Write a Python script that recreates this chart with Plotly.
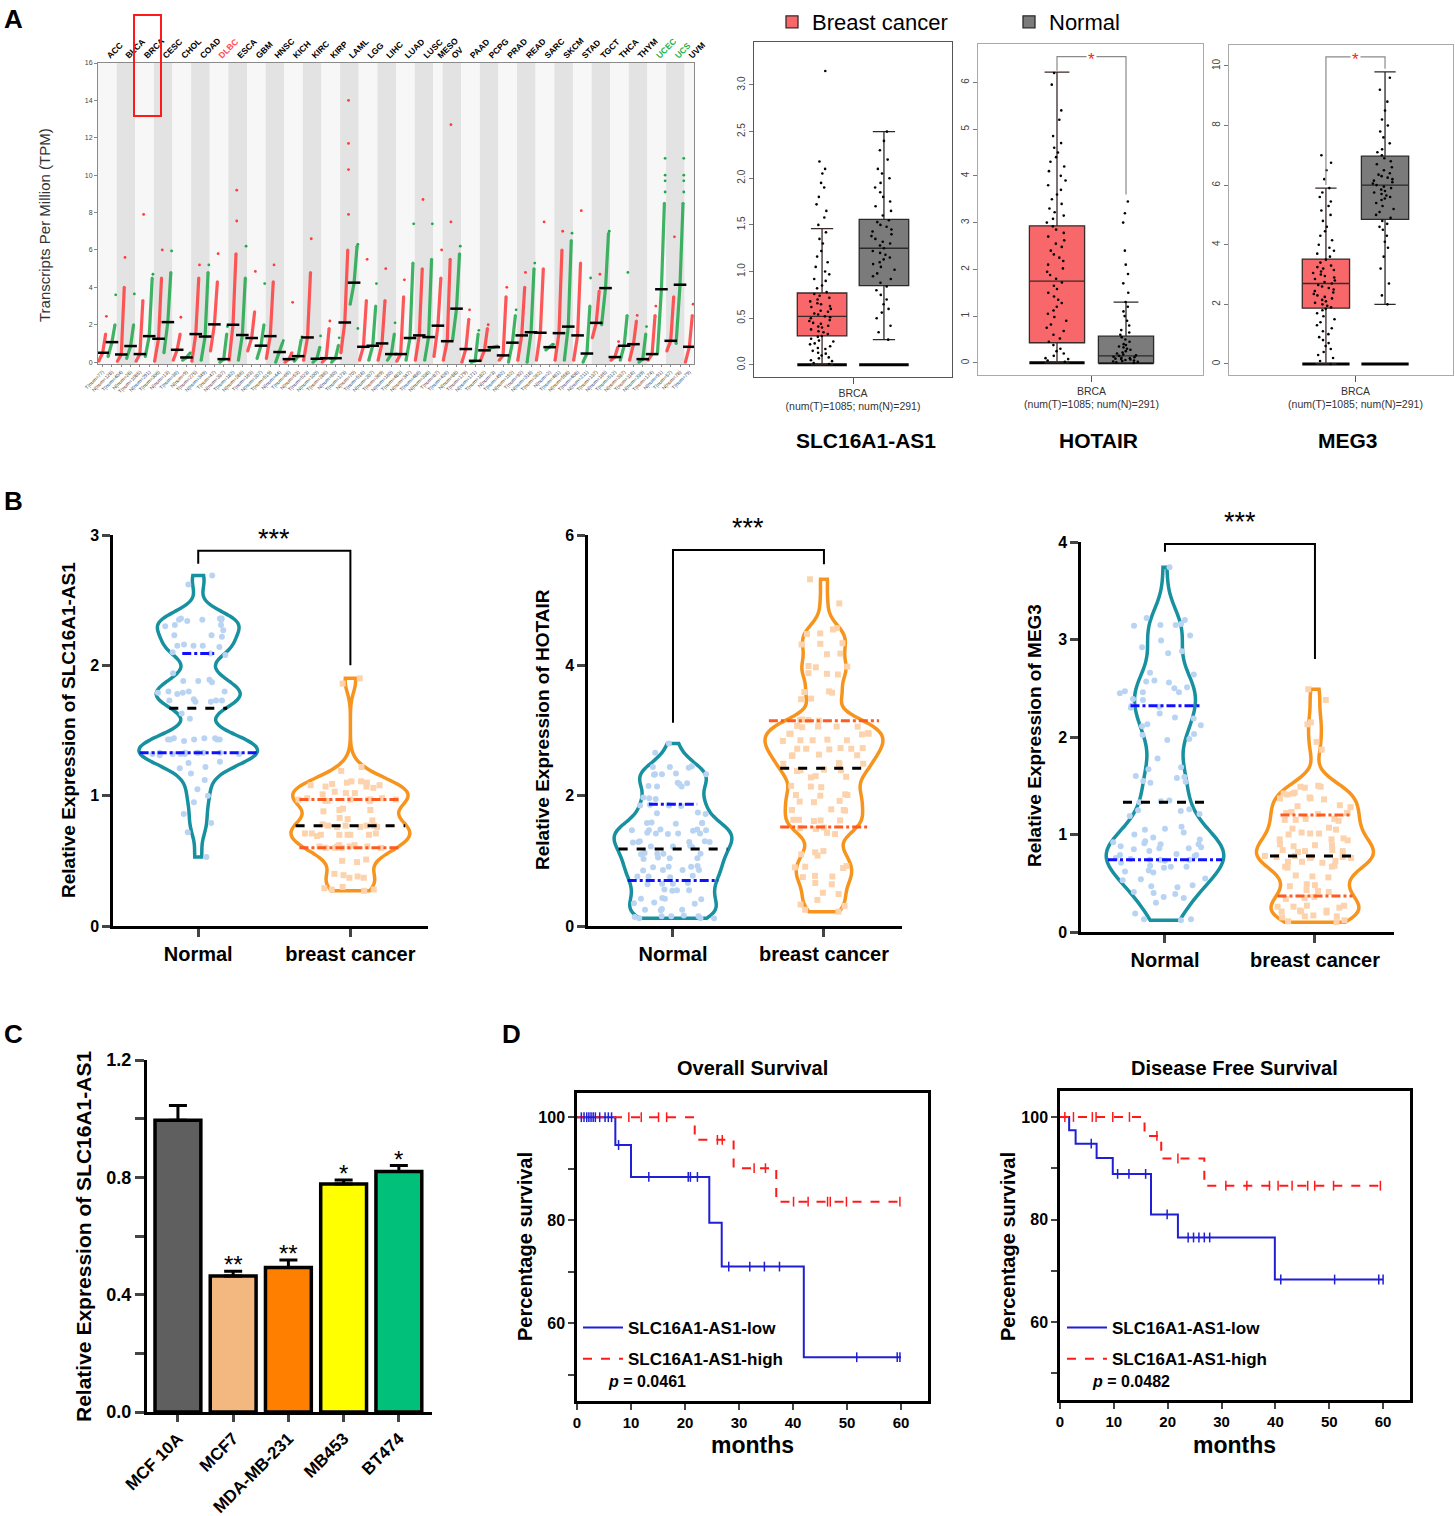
import plotly.graph_objects as go

W, H = 1455, 1516
FONT = "Arial, 'Liberation Sans', Helvetica, sans-serif"

# ============================ DATA ============================
# ---- Panel A (left): pan-cancer SLC16A1-AS1 expression, TPM ----
cancers = ["ACC", "BLCA", "BRCA", "CESC", "CHOL", "COAD", "DLBC", "ESCA", "GBM", "HNSC", "KICH",
           "KIRC", "KIRP", "LAML", "LGG", "LIHC", "LUAD", "LUSC", "MESO", "OV", "PAAD", "PCPG",
           "PRAD", "READ", "SARC", "SKCM", "STAD", "TGCT", "THCA", "THYM", "UCEC", "UCS", "UVM"]
tumor_n = [77, 404, 1085, 306, 36, 275, 47, 182, 163, 519, 66, 523, 286, 173, 518, 369, 483, 486,
           87, 426, 179, 182, 492, 92, 262, 461, 408, 137, 512, 118, 174, 57, 79]
normal_n = [128, 28, 291, 13, 9, 349, 337, 286, 207, 44, 53, 100, 60, 70, 207, 160, 347, 338,
            None, 88, 171, 3, 152, 318, 2, 558, 211, 165, 337, 339, 91, 78, None]
tumor_low = [0.05, 0.05, 0.05, 0.05, 0.1, 0.05, 0.6, 0.1, 0.6, 0.2, 0.0, 0.1, 0.0, 0.5, 0.1, 0.1, 0.05,
             0.1, 0.3, 0.1, 0.0, 0.1, 0.1, 0.1, 0.1, 0.1, 0.1, 1.3, 0.1, 0.1, 0.1, 0.6, 0.0]
tumor_med = [0.50, 0.41, 0.43, 1.25, 0.66, 1.50, 2.02, 2.00, 1.29, 1.39, 0.16, 1.32, 0.21, 2.12, 0.82,
             1.00, 0.43, 1.43, 1.95, 1.12, 0.70, 0.63, 0.36, 1.43, 1.57, 1.55, 1.43, 2.10, 0.27, 0.96,
             0.43, 1.14, 0.82]
tumor_high = [1.5, 4.0, 3.3, 4.5, 1.5, 4.5, 4.3, 5.8, 2.7, 4.3, 0.5, 4.8, 1.8, 6.0, 3.3, 3.3, 3.5, 5.0,
              4.5, 5.5, 2.3, 1.8, 3.5, 4.0, 5.0, 6.0, 5.3, 3.8, 0.8, 2.2, 2.5, 3.5, 2.5]
tumor_max = [2.45, 5.6, 7.9, 6.0, 2.4, 5.2, 5.8, 7.55, 4.85, 5.2, 3.2, 6.6, 2.2, 7.9, 5.5, 5.0, 4.4, 8.7,
             6.0, 7.5, 2.8, 2.0, 4.0, 4.8, 7.5, 7.0, 8.1, 4.7, 1.1, 2.5, 3.0, 6.7, 3.1]
normal_low = [0.3, 0.2, 0.3, 0.5, 0.1, 0.1, 0.0, 0.1, 0.2, 0.0, 0.05, 0.0, 0.0, 3.1, 0.1, 0.1, 0.1, 0.1,
              None, 1.2, 0.0, 0.75, 0.0, 0.0, 0.65, 0.1, 0.0, 2.0, 0.1, 0.0, 0.5, 1.0, None]
normal_med = [1.07, 0.86, 1.39, 2.14, 0.25, 1.37, 0.16, 1.45, 0.88, 0.54, 0.32, 0.18, 0.21, 4.25, 0.875,
              0.43, 1.29, 1.34, None, 2.86, 0.07, 0.80, 1.04, 1.60, 0.80, 1.90, 0.46, 3.96, 0.875, 0.16,
              3.90, 4.14, None]
normal_high = [2.0, 2.0, 4.5, 4.8, 0.45, 4.8, 1.5, 4.5, 2.0, 1.05, 1.2, 0.8, 0.9, 6.2, 3.0, 1.5, 5.3, 5.5,
               None, 5.8, 1.5, 0.85, 2.5, 5.0, 0.95, 6.5, 3.0, 6.9, 2.5, 1.5, 8.5, 8.5, None]
normal_max = [3.6, 3.65, 4.7, 5.95, 0.5, 5.2, 1.9, 6.2, 4.2, 1.15, 1.35, 1.4, 1.3, 6.3, 4.2, 2.1, 7.4, 7.4,
              None, 6.2, 1.7, 0.85, 2.8, 5.3, 0.95, 6.9, 4.5, 7.0, 4.8, 1.9, 10.9, 10.9, None]
tumor_outliers = {"ESCA": [9.2], "LAML": [14.0, 11.7, 10.3], "OV": [12.7]}
normal_outliers = {"LAML": [1.8], "UCEC": [10.0, 9.7, 9.1], "UCS": [10.0, 9.7, 9.1]}
label_colors = {"DLBC": "#ff4d4d", "UCEC": "#22b14c", "UCS": "#22b14c"}

# ---- Panel A (right): GEPIA boxplots in BRCA ----
box_genes = ["SLC16A1-AS1", "HOTAIR", "MEG3"]
box_caption = "BRCA<br>(num(T)=1085; num(N)=291)"
tumor_q1 = [0.31, 0.43, 1.87]
tumor_median = [0.52, 1.75, 2.70]
tumor_q3 = [0.77, 2.93, 3.52]
tumor_lowf = [0.0, 0.0, 0.0]
tumor_upf = [1.46, 6.22, 5.90]
normal_q1 = [0.85, 0.0, 4.85]
normal_median = [1.25, 0.15, 6.00]
normal_q3 = [1.56, 0.57, 6.97]
normal_lowf = [0.27, 0.0, 2.0]
normal_upf = [2.50, 1.30, 9.80]
box_baseline = 0.0
tumor_points = [
    [0.01, 0.02, 0.04, 0.05, 0.07, 0.08, 0.1, 0.12, 0.13, 0.15, 0.17, 0.18, 0.2, 0.22, 0.23, 0.25, 0.26,
     0.28, 0.3, 0.31, 0.33, 0.35, 0.36, 0.38, 0.4, 0.41, 0.42, 0.44, 0.45, 0.47, 0.48, 0.5, 0.51, 0.52,
     0.54, 0.55, 0.57, 0.58, 0.6, 0.62, 0.63, 0.65, 0.66, 0.68, 0.7, 0.72, 0.74, 0.76, 0.78, 0.82, 0.85,
     0.9, 0.92, 0.97, 1.0, 1.05, 1.1, 1.16, 1.22, 1.3, 1.35, 1.42, 1.5, 1.58, 1.65, 1.72, 1.8, 1.9, 1.95,
     2.05, 2.1, 2.18, 3.15],
    [0.02, 0.05, 0.08, 0.1, 0.15, 0.2, 0.25, 0.3, 0.38, 0.45, 0.52, 0.6, 0.68, 0.75, 0.82, 0.9, 0.98, 1.05,
     1.12, 1.2, 1.28, 1.35, 1.42, 1.5, 1.58, 1.65, 1.72, 1.8, 1.88, 1.95, 2.02, 2.1, 2.18, 2.25, 2.32, 2.4,
     2.48, 2.55, 2.62, 2.7, 2.78, 2.85, 2.92, 3.0, 3.08, 3.15, 3.22, 3.3, 3.4, 3.5, 3.6, 3.7, 3.8, 3.9,
     4.0, 4.1, 4.2, 4.3, 4.4, 4.5, 4.6, 4.7, 4.85, 5.2, 5.4, 5.95, 6.2],
    [0.0, 0.1, 0.2, 0.3, 0.4, 0.5, 0.6, 0.7, 0.8, 0.9, 1.0, 1.1, 1.2, 1.3, 1.4, 1.5, 1.6, 1.7, 1.8, 1.85,
     1.9, 1.95, 2.0, 2.05, 2.1, 2.15, 2.2, 2.25, 2.3, 2.35, 2.4, 2.45, 2.5, 2.55, 2.6, 2.65, 2.7, 2.75,
     2.8, 2.85, 2.9, 2.95, 3.0, 3.05, 3.1, 3.15, 3.2, 3.25, 3.3, 3.4, 3.5, 3.6, 3.7, 3.8, 3.9, 4.0, 4.15,
     4.3, 4.45, 4.6, 4.8, 5.0, 5.15, 5.3, 5.45, 5.6, 5.75, 5.9, 6.2, 6.5, 6.75, 7.0],
]
normal_points = [
    [0.27, 0.35, 0.42, 0.5, 0.56, 0.6, 0.65, 0.7, 0.75, 0.8, 0.84, 0.88, 0.92, 0.95, 0.98, 1.02, 1.05,
     1.08, 1.1, 1.13, 1.15, 1.18, 1.2, 1.22, 1.25, 1.28, 1.3, 1.32, 1.35, 1.38, 1.4, 1.43, 1.45, 1.48,
     1.5, 1.53, 1.55, 1.6, 1.65, 1.7, 1.75, 1.8, 1.85, 1.9, 1.95, 2.0, 2.05, 2.1, 2.2, 2.3, 2.4, 2.5],
    [0.0, 0.01, 0.02, 0.03, 0.04, 0.05, 0.06, 0.07, 0.08, 0.09, 0.1, 0.11, 0.12, 0.13, 0.15, 0.16, 0.18,
     0.2, 0.22, 0.25, 0.28, 0.3, 0.33, 0.35, 0.38, 0.4, 0.45, 0.5, 0.55, 0.6, 0.65, 0.7, 0.8, 0.9, 1.0,
     1.1, 1.2, 1.3, 1.5, 1.7, 1.9, 2.1, 2.4, 3.0, 3.2, 3.45],
    [2.0, 2.3, 2.7, 3.2, 3.6, 3.9, 4.1, 4.3, 4.5, 4.6, 4.7, 4.8, 4.9, 5.0, 5.1, 5.2, 5.3, 5.4, 5.5, 5.55,
     5.6, 5.65, 5.7, 5.75, 5.8, 5.85, 5.9, 5.95, 6.0, 6.05, 6.1, 6.15, 6.2, 6.25, 6.3, 6.35, 6.4, 6.5,
     6.6, 6.7, 6.8, 6.9, 7.0, 7.1, 7.2, 7.4, 7.6, 7.8, 8.0, 8.2, 8.5, 8.8, 9.2, 9.6],
]
# significance brackets: [left foot, top, right foot]; None = no bracket
box_brackets = [None, [6.25, 6.55, 3.6], [6.0, 10.3, 9.9]]

# ---- Panel B: violin plots (Normal vs breast cancer) ----
violin_groups = ["Normal", "breast cancer"]
violin_genes = ["SLC16A1-AS1", "HOTAIR", "MEG3"]
slc_normal = [2.69, 2.62, 2.36, 2.36, 2.35, 2.35, 2.34, 2.35, 2.36, 2.31, 2.31, 2.30, 2.27, 2.23, 2.23,
              2.22, 2.16, 2.15, 2.15, 2.14, 2.15, 2.09, 2.10, 2.08, 1.94, 1.88, 1.88, 1.87, 1.89, 1.80,
              1.79, 1.80, 1.79, 1.80, 1.78, 1.73, 1.73, 1.72, 1.74, 1.73, 1.72, 1.63, 1.59, 1.44, 1.43,
              1.43, 1.44, 1.43, 1.42, 1.43, 1.44, 1.43, 1.33, 1.32, 1.33, 1.32, 1.33, 1.31, 1.32, 1.33,
              1.32, 1.33, 1.32, 1.33, 1.26, 1.25, 1.22, 1.21, 1.17, 1.12, 1.05, 1.00, 0.95, 0.86, 0.79,
              0.72, 0.53]
slc_cancer = [1.90, 1.86, 1.22, 1.19, 1.11, 1.10, 1.10, 1.11, 1.09, 1.08, 1.07, 1.08, 1.07, 1.06, 1.02,
              1.03, 1.02, 1.01, 0.97, 0.97, 0.96, 0.97, 0.98, 0.97, 0.96, 0.97, 0.98, 0.96, 0.90, 0.89,
              0.89, 0.88, 0.82, 0.83, 0.81, 0.77, 0.76, 0.77, 0.76, 0.77, 0.78, 0.76, 0.77, 0.71, 0.70,
              0.70, 0.71, 0.70, 0.69, 0.70, 0.71, 0.70, 0.62, 0.61, 0.60, 0.61, 0.60, 0.62, 0.60, 0.61,
              0.60, 0.61, 0.51, 0.50, 0.49, 0.40, 0.39, 0.38, 0.37, 0.37, 0.30, 0.29, 0.28, 0.28, 0.27]
hot_normal = [2.80, 2.66, 2.45, 2.44, 2.44, 2.43, 2.34, 2.33, 2.33, 2.32, 2.33, 2.20, 2.19, 2.18, 2.15,
              2.14, 2.14, 1.97, 1.96, 1.95, 1.86, 1.85, 1.85, 1.86, 1.84, 1.74, 1.73, 1.72, 1.59, 1.58,
              1.58, 1.57, 1.58, 1.48, 1.47, 1.47, 1.46, 1.47, 1.48, 1.42, 1.41, 1.42, 1.43, 1.42, 1.30,
              1.29, 1.29, 1.28, 1.29, 1.30, 1.22, 1.22, 1.21, 1.23, 1.12, 1.11, 1.11, 1.10, 1.11, 1.04,
              1.04, 1.03, 1.05, 0.92, 0.91, 0.91, 0.90, 0.86, 0.86, 0.85, 0.86, 0.77, 0.76, 0.76, 0.75,
              0.66, 0.65, 0.65, 0.64, 0.56, 0.55, 0.55, 0.54, 0.43, 0.42, 0.42, 0.41, 0.36, 0.35, 0.34,
              0.26, 0.25, 0.25, 0.24, 0.16, 0.15, 0.15, 0.14, 0.15, 0.12, 0.12, 0.12]
hot_cancer = [5.32, 4.95, 4.57, 4.55, 4.49, 4.48, 4.34, 4.33, 4.32, 4.18, 4.17, 3.99, 3.98, 3.97, 3.88,
              3.87, 3.86, 3.60, 3.59, 3.58, 3.49, 3.48, 3.17, 3.16, 3.15, 3.16, 3.07, 3.06, 3.06, 3.05,
              3.06, 2.96, 2.95, 2.95, 2.94, 2.95, 2.86, 2.85, 2.85, 2.84, 2.85, 2.73, 2.72, 2.72, 2.71,
              2.72, 2.73, 2.63, 2.62, 2.61, 2.62, 2.50, 2.49, 2.48, 2.49, 2.40, 2.39, 2.38, 2.39, 2.30,
              2.29, 2.28, 2.15, 2.14, 2.13, 2.02, 2.01, 2.00, 2.01, 1.92, 1.91, 1.90, 1.79, 1.78, 1.77,
              1.78, 1.63, 1.62, 1.61, 1.62, 1.63, 1.51, 1.50, 1.49, 1.43, 1.41, 1.15, 1.13, 1.10, 1.08,
              0.92, 0.91, 0.90, 0.89, 0.77, 0.76, 0.75, 0.66, 0.64, 0.51, 0.49, 0.40, 0.33, 0.31, 0.25,
              0.22]
meg_normal = [3.74, 3.22, 3.20, 3.16, 3.15, 3.15, 3.14, 3.04, 2.99, 2.92, 2.88, 2.86, 2.66, 2.64, 2.58,
              2.57, 2.56, 2.51, 2.50, 2.47, 2.46, 2.46, 2.45, 2.39, 2.38, 2.32, 2.31, 2.30, 2.24, 2.20,
              2.19, 2.13, 2.12, 2.11, 2.03, 2.02, 1.98, 1.97, 1.78, 1.69, 1.67, 1.60, 1.59, 1.58, 1.55,
              1.54, 1.53, 1.35, 1.34, 1.33, 1.26, 1.25, 1.24, 1.21, 1.19, 1.08, 1.06, 1.05, 1.02, 1.00,
              0.97, 0.95, 0.93, 0.92, 0.91, 0.90, 0.90, 0.88, 0.87, 0.86, 0.85, 0.86, 0.83, 0.80, 0.79,
              0.79, 0.78, 0.76, 0.75, 0.74, 0.74, 0.73, 0.74, 0.71, 0.68, 0.67, 0.66, 0.67, 0.63, 0.62,
              0.61, 0.55, 0.54, 0.53, 0.48, 0.47, 0.46, 0.41, 0.40, 0.39, 0.36, 0.35, 0.30, 0.19, 0.13,
              0.13, 0.12]
meg_cancer = [2.49, 2.38, 2.15, 2.13, 1.95, 1.87, 1.50, 1.49, 1.48, 1.49, 1.43, 1.42, 1.41, 1.42, 1.38,
              1.37, 1.36, 1.37, 1.30, 1.29, 1.28, 1.22, 1.22, 1.21, 1.23, 1.22, 1.16, 1.15, 1.14, 1.15,
              1.16, 1.07, 1.06, 1.05, 1.02, 1.01, 1.00, 1.01, 0.96, 0.95, 0.94, 0.95, 0.90, 0.89, 0.88,
              0.89, 0.84, 0.83, 0.83, 0.82, 0.84, 0.78, 0.77, 0.77, 0.76, 0.77, 0.78, 0.76, 0.73, 0.72,
              0.71, 0.72, 0.68, 0.67, 0.66, 0.67, 0.58, 0.57, 0.56, 0.49, 0.48, 0.47, 0.43, 0.42, 0.41,
              0.36, 0.35, 0.34, 0.27, 0.26, 0.26, 0.25, 0.27, 0.22, 0.21, 0.21, 0.20, 0.22, 0.17, 0.16,
              0.16, 0.15, 0.12, 0.11, 0.10]
# quartiles drawn on violins: [Q1, median, Q3]
slc_normal_q = [1.33, 1.67, 2.09]
slc_cancer_q = [0.60, 0.77, 0.97]
hot_normal_q = [0.70, 1.18, 1.87]
hot_cancer_q = [1.52, 2.42, 3.15]
meg_normal_q = [0.74, 1.33, 2.32]
meg_cancer_q = [0.37, 0.78, 1.20]
violin_brackets = [[2.78, 2.88, 2.0], [3.12, 5.77, 5.55], [3.9, 3.98, 2.8]]
violin_star_y = [2.97, 6.1, 4.2]
violin_sig = "***"

# ---- Panel C: cell lines ----
cell_lines = ["MCF 10A", "MCF7", "MDA-MB-231", "MB453", "BT474"]
cell_expr = [0.995, 0.464, 0.493, 0.777, 0.820]
cell_err = [0.05, 0.016, 0.025, 0.014, 0.02]
cell_sig = ["", "**", "**", "*", "*"]

# ---- Panel D: Kaplan-Meier ----
os_low_t = [0, 7.1, 10.0, 24.5, 26.8, 42.0, 60.0]
os_low_s = [100, 94.6, 88.4, 79.5, 71.0, 53.4, 53.4]
os_low_cens = [0.8, 1.3, 1.8, 2.2, 2.6, 3.0, 3.4, 4.2, 5.2, 5.8, 6.4, 7.7, 13.3, 20.6, 21.0, 22.3, 28.1,
               32.0, 34.7, 37.5, 51.8, 59.3, 59.8]
os_high_t = [0, 21.8, 29.0, 36.9, 60.0]
os_high_s = [100, 95.6, 90.1, 83.6, 83.6]
os_high_cens = [9.6, 11.9, 15.1, 16.6, 26.0, 26.9, 32.8, 34.9, 40.1, 42.8, 46.4, 46.9, 49.9, 59.8]
dfs_low_t = [0, 1.7, 2.9, 6.8, 9.8, 16.9, 21.9, 39.9, 60.0]
dfs_low_s = [100, 97.4, 94.8, 92.0, 88.9, 81.0, 76.5, 68.3, 68.3]
dfs_low_cens = [5.8, 10.7, 12.8, 15.9, 19.9, 23.8, 24.8, 25.8, 26.8, 27.8, 41.0, 51.0, 59.2, 60.0]
dfs_high_t = [0, 15.7, 18.8, 26.8, 60.0]
dfs_high_s = [100, 96.3, 91.9, 86.6, 86.6]
dfs_high_cens = [0.9, 2.5, 6.0, 6.7, 9.8, 12.9, 18.0, 21.9, 30.8, 34.7, 38.9, 40.5, 43.1, 46.0, 47.3,
                 50.8, 59.5]
km_titles = ["Overall Survival", "Disease Free Survival"]
km_pvalues = ["0.0461", "0.0482"]
km_names = ["SLC16A1-AS1-low", "SLC16A1-AS1-high"]

# ============================ HELPERS ============================
def xd(a, b):
    return [a / W, b / W]


def yd(top, bottom):
    return [1 - bottom / H, 1 - top / H]


def px(p):
    return p / W


def py(p):
    return 1 - p / H


fig = go.Figure()
annotations = []
shapes = []
layout = dict(width=W, height=H, margin=dict(l=0, r=0, t=0, b=0, pad=0, autoexpand=False), autosize=False,
              paper_bgcolor="white", plot_bgcolor="white", hovermode=False, template="none",
              font=dict(family=FONT, color="black"), boxmode="overlay", violinmode="overlay")


def ax(domain, rng, **kw):
    d = dict(domain=domain, range=rng, showgrid=False, zeroline=False, fixedrange=True, automargin=False)
    d.update(kw)
    return d


def data_to_paper(axis_dict, v):
    d0, d1 = axis_dict["domain"]
    r0, r1 = axis_dict["range"]
    return d0 + (v - r0) / (r1 - r0) * (d1 - d0)


def ann(text, x, y, size, bold=False, angle=0, color="black", xanchor="center", yanchor="middle", **kw):
    annotations.append(dict(text=text, x=x, y=y, xref=kw.pop("xref", "paper"), yref=kw.pop("yref", "paper"),
                            showarrow=False, textangle=angle, xanchor=xanchor, yanchor=yanchor,
                            font=dict(size=size, color=color, family=FONT, weight="bold" if bold else "normal"),
                            **kw))


# ===================== Panel A left: dot plot =====================
RED_T = "#ff3c3c"
GRN_N = "#1fa84a"
pos = 0
tx, ty, nx, ny = [], [], [], []
tmx, tmy, nmx, nmy = [], [], [], []
medx, medy = [], []
bot_vals, bot_text = [], []
centers, top_text = [], []
bands = []
for i, c in enumerate(cancers):
    start = pos
    p = pos
    tx += [p - 0.42, p, p + 0.32, None]
    ty += [tumor_low[i], tumor_med[i], tumor_high[i], None]
    for v in [tumor_max[i]] + tumor_outliers.get(c, []):
        tmx.append(p + 0.4)
        tmy.append(v)
    medx.append(p)
    medy.append(tumor_med[i])
    bot_vals.append(p)
    bot_text.append(f"T(num={tumor_n[i]})")
    pos += 1
    if normal_med[i] is not None:
        p = pos
        nx += [p - 0.42, p, p + 0.32, None]
        ny += [normal_low[i], normal_med[i], normal_high[i], None]
        for v in [normal_max[i]] + normal_outliers.get(c, []):
            nmx.append(p + 0.4)
            nmy.append(v)
        medx.append(p)
        medy.append(normal_med[i])
        bot_vals.append(p)
        bot_text.append(f"N(num={normal_n[i]})")
        pos += 1
    centers.append((start + pos - 1) / 2)
    col = label_colors.get(c)
    top_text.append(f"<span style='color:{col}'>{c}</span>" if col else c)
    bands.append((start - 0.5, pos - 0.5))
n_groups = pos

for k, (a, b) in enumerate(bands):
    shapes.append(dict(type="rect", xref="x", yref="y domain", x0=a, x1=b, y0=0, y1=1,
                       fillcolor="#e3e3e3" if k % 2 == 1 else "#f7f7f7", line=dict(width=0), layer="below"))

fig.add_trace(go.Scatter(x=tx, y=ty, mode="lines+markers", line=dict(color=RED_T, width=3.2),
                         marker=dict(size=3, color=RED_T), opacity=0.85, showlegend=False, xaxis="x", yaxis="y"))
fig.add_trace(go.Scatter(x=nx, y=ny, mode="lines+markers", line=dict(color=GRN_N, width=3.2),
                         marker=dict(size=3, color=GRN_N), opacity=0.85, showlegend=False, xaxis="x", yaxis="y"))
fig.add_trace(go.Scatter(x=tmx, y=tmy, mode="markers", marker=dict(size=2.8, color=RED_T),
                         showlegend=False, xaxis="x", yaxis="y"))
fig.add_trace(go.Scatter(x=nmx, y=nmy, mode="markers", marker=dict(size=2.8, color=GRN_N),
                         showlegend=False, xaxis="x", yaxis="y"))
fig.add_trace(go.Scatter(x=medx, y=medy, mode="markers",
                         marker=dict(symbol="line-ew", size=9, line=dict(width=2.5, color="black")),
                         showlegend=False, xaxis="x", yaxis="y"))
fig.add_trace(go.Scatter(x=centers, y=[None] * len(centers), mode="markers", showlegend=False,
                         xaxis="x2", yaxis="y"))

layout["xaxis"] = ax(xd(98, 694), [-0.5, n_groups - 0.5], anchor="y", tickmode="array", tickvals=bot_vals,
                     ticktext=bot_text, tickangle=-45, tickfont=dict(size=5, color="#444"), ticks="outside",
                     ticklen=2, tickcolor="#888", showline=True, linecolor="#8a8a8a", linewidth=1, mirror=True)
layout["xaxis2"] = ax(xd(98, 694), [-0.5, n_groups - 0.5], anchor="y", overlaying="x", side="top",
                      tickmode="array", tickvals=centers, ticktext=top_text, tickangle=-45,
                      tickfont=dict(size=8.5, weight="bold", color="black"), ticks="", showline=False)
layout["yaxis"] = ax(yd(63, 364), [-0.1, 16], anchor="x", tickvals=list(range(0, 17, 2)),
                     tickfont=dict(size=7, color="#444"), ticks="outside", ticklen=3, tickcolor="#888",
                     showline=True, linecolor="#8a8a8a", linewidth=1, mirror=True)
ann("Transcripts Per Million (TPM)", px(45), py(225), 15, angle=-90, color="#333")
# red highlight frame around the BRCA label
shapes.append(dict(type="rect", xref="paper", yref="paper", x0=px(134), x1=px(161), y0=py(116), y1=py(15),
                   line=dict(color="#ff1a1a", width=2), fillcolor="rgba(0,0,0,0)"))

# ===================== Panel A right: boxplots =====================
box_frames = [((754, 952), (42, 377), [-1.10, 2.10], [-0.13, 3.46], [0, 0.5, 1.0, 1.5, 2.0, 2.5, 3.0], "#555"),
              ((978, 1203), (44, 375), [-1.145, 2.116], [-0.26, 6.82], [0, 1, 2, 3, 4, 5, 6], "#aaa"),
              ((1229, 1453), (45, 375), [-1.64, 2.15], [-0.37, 10.7], [0, 2, 4, 6, 8, 10], "#aaa")]
gene_title_x = [866, 1098, 1348]
for k in range(3):
    xa, ya = f"x{3 + k}", f"y{3 + k}"
    (x0, x1), (y0, y1), xr, yr, yt, fc = box_frames[k]
    layout[f"xaxis{3 + k}"] = ax(xd(x0, x1), xr, anchor=ya, tickvals=[0.5], ticktext=[box_caption],
                                 tickfont=dict(size=10.5, color="#333"), ticks="outside", ticklen=6,
                                 tickcolor="#555", showline=True, linecolor=fc, linewidth=1.3, mirror=True)
    layout[f"yaxis{3 + k}"] = ax(yd(y0, y1), yr, anchor=xa, tickvals=yt,
                                 ticktext=[f"{v:.1f}" if k == 0 else f"{v:g}" for v in yt], tickangle=-90,
                                 tickfont=dict(size=10, color="#444"), ticks="outside", ticklen=4,
                                 tickcolor="#777", showline=True, linecolor=fc, linewidth=1.3, mirror=True)
    for xpos in (0, 1):
        fig.add_trace(go.Box(x=[xpos], q1=[box_baseline], median=[box_baseline], q3=[box_baseline],
                             lowerfence=[box_baseline], upperfence=[box_baseline], width=0.8,
                             line=dict(color="black", width=3), fillcolor="black", showlegend=False,
                             xaxis=xa, yaxis=ya))
    fig.add_trace(go.Box(x=[0], q1=[tumor_q1[k]], median=[tumor_median[k]], q3=[tumor_q3[k]],
                         lowerfence=[tumor_lowf[k]], upperfence=[tumor_upf[k]], width=0.8,
                         fillcolor="#f8676a", line=dict(color="#3a2a2a", width=1.3), whiskerwidth=0.45,
                         name="Breast cancer", legendgroup="bc", showlegend=(k == 0), xaxis=xa, yaxis=ya))
    fig.add_trace(go.Box(x=[1], q1=[normal_q1[k]], median=[normal_median[k]], q3=[normal_q3[k]],
                         lowerfence=[normal_lowf[k]], upperfence=[normal_upf[k]], width=0.8,
                         fillcolor="#7b7b7b", line=dict(color="#2a2a2a", width=1.3), whiskerwidth=0.45,
                         name="Normal", legendgroup="nm", showlegend=(k == 0), xaxis=xa, yaxis=ya))
    for xpos, vals in ((0, tumor_points[k]), (1, normal_points[k])):
        fig.add_trace(go.Box(y=vals, x0=xpos, width=0.8, boxpoints="all", jitter=0.55, pointpos=0,
                             marker=dict(color="black", size=2.6), line=dict(width=0),
                             fillcolor="rgba(0,0,0,0)", whiskerwidth=0, showlegend=False, xaxis=xa, yaxis=ya))
    br = box_brackets[k]
    if br is not None:
        fig.add_trace(go.Scatter(x=[0, 0, 1, 1], y=[br[0], br[1], br[1], br[2]], mode="lines",
                                 line=dict(color="#8a8a8a", width=1.2), showlegend=False, xaxis=xa, yaxis=ya))
        ann("*", 0.5, br[1], 17, color="#ff2020", xref=xa, yref=ya, bgcolor="white", yshift=-3)
    ann(box_genes[k], px(gene_title_x[k]), py(440), 21, bold=True)

layout["legend"] = dict(orientation="h", x=px(772), y=py(1), xanchor="left", yanchor="top",
                        font=dict(size=22, family=FONT), entrywidth=192, entrywidthmode="pixels",
                        bgcolor="rgba(0,0,0,0)", itemwidth=30)

# ===================== Panel B: violins =====================
v_frames = [((113, 428), (535, 926), [-0.56, 1.51], [0, 3], [0, 1, 2, 3]),
            ((588, 902), (535, 926), [-0.563, 1.517], [0, 6], [0, 2, 4, 6]),
            ((1081, 1394), (542, 932), [-0.56, 1.527], [0, 4], [0, 1, 2, 3, 4])]
v_data = [(slc_normal, slc_cancer, slc_normal_q, slc_cancer_q),
          (hot_normal, hot_cancer, hot_normal_q, hot_cancer_q),
          (meg_normal, meg_cancer, meg_normal_q, meg_cancer_q)]
v_bw = [(0.085, 0.085), (0.17, 0.17), (0.21, 0.13)]
# half-widths (in x units) of the quartile dash lines  [Q1, median, Q3]
v_qw = [([0.385, 0.19, 0.105], [0.335, 0.36, 0.335]),
        ([0.30, 0.36, 0.16], [0.29, 0.29, 0.365]),
        ([0.38, 0.28, 0.23], [0.25, 0.30, 0.23])]
v_title_pos = [(68, 730), (542, 730), (1035, 736)]
TEAL, ORANGE = "#17909f", "#f7941d"
for k in range(3):
    xa, ya = f"x{6 + k}", f"y{6 + k}"
    (x0, x1), (y0, y1), xr, yr, yt = v_frames[k]
    xax = ax(xd(x0, x1), xr, anchor=ya, type="linear", tickvals=[0, 1],
             ticktext=violin_groups, tickfont=dict(size=20, weight="bold"),
             ticks="outside", ticklen=8, tickwidth=2.5, showline=True,
             linecolor="black", linewidth=2.5)
    yax = ax(yd(y0, y1), yr, anchor=xa, tickvals=yt, tickfont=dict(size=16, weight="bold"),
             ticks="outside", ticklen=8, tickwidth=2.5, showline=True,
             linecolor="black", linewidth=2.5)
    layout[f"xaxis{6 + k}"] = xax
    layout[f"yaxis{6 + k}"] = yax
    nvals, cvals, nq, cq = v_data[k]
    fig.add_trace(go.Violin(y=nvals, x0=0, width=0.78, scalemode="width", spanmode="hard", bandwidth=v_bw[k][0],
                            line=dict(color=TEAL, width=3.5), fillcolor="rgba(255,255,255,0)", points="all",
                            pointpos=0, jitter=0.9, marker=dict(color="#b9d4f3", size=6, symbol="circle"),
                            box_visible=False, meanline_visible=False, showlegend=False, xaxis=xa, yaxis=ya))
    fig.add_trace(go.Violin(y=cvals, x0=1, width=0.78, scalemode="width", spanmode="hard", bandwidth=v_bw[k][1],
                            line=dict(color=ORANGE, width=3.5), fillcolor="rgba(255,255,255,0)", points="all",
                            pointpos=0, jitter=0.9, marker=dict(color="#fcd3ad", size=6, symbol="square"),
                            box_visible=False, meanline_visible=False, showlegend=False, xaxis=xa, yaxis=ya))
    for xpos, qs, hws, qcol in ((0, nq, v_qw[k][0], "#1010ff"), (1, cq, v_qw[k][1], "#ff5a1f")):
        for j, (q, hw) in enumerate(zip(qs, hws)):
            fig.add_trace(go.Scatter(x=[xpos - hw, xpos + hw], y=[q, q], mode="lines",
                                     line=dict(color="black" if j == 1 else qcol, width=3,
                                               dash="dash" if j == 1 else "dashdot"),
                                     showlegend=False, xaxis=xa, yaxis=ya))
    br = violin_brackets[k]
    fig.add_trace(go.Scatter(x=[0, 0, 1, 1], y=[br[0], br[1], br[1], br[2]], mode="lines",
                             line=dict(color="black", width=2), showlegend=False, xaxis=xa, yaxis=ya))
    ann(violin_sig, data_to_paper(xax, 0.5), data_to_paper(yax, violin_star_y[k]), 27)
    tx_, ty_ = v_title_pos[k]
    ann(f"Relative Expression of {violin_genes[k]}", px(tx_), py(ty_), 19, bold=True, angle=-90)

# ===================== Panel C: bar chart =====================
cell_colors = ["#5f5f5f", "#f2b880", "#ff8000", "#ffff00", "#00c07a"]
fig.add_trace(go.Bar(x=list(range(len(cell_lines))), y=cell_expr, width=0.83,
                     marker=dict(color=cell_colors, line=dict(color="black", width=3.5)),
                     error_y=dict(type="data", array=cell_err, arrayminus=[0] * len(cell_err), symmetric=False,
                                  color="black", thickness=3, width=9),
                     showlegend=False, xaxis="x9", yaxis="y9"))
for i, s in enumerate(cell_sig):
    if s:
        ann(s, i, cell_expr[i] + cell_err[i], 24, xref="x9", yref="y9", yanchor="bottom", yshift=-9)
layout["xaxis9"] = ax(xd(147, 432), [-0.56, 4.6], anchor="y9", tickvals=list(range(len(cell_lines))),
                      ticktext=cell_lines, tickangle=-45, tickfont=dict(size=17, weight="bold"), ticks="outside",
                      ticklen=7, tickwidth=3, showline=True, linecolor="black", linewidth=3)
layout["yaxis9"] = ax(yd(1060, 1412), [0, 1.2], anchor="x9", tickvals=[0, 0.2, 0.4, 0.6, 0.8, 1.0, 1.2],
                      ticktext=["0.0", "", "0.4", "", "0.8", "", "1.2"], tickfont=dict(size=18, weight="bold"),
                      ticks="outside", ticklen=9, tickwidth=3, showline=True, linecolor="black", linewidth=3)
ann("Relative Expression of SLC16A1-AS1", px(83), py(1237), 21, bold=True, angle=-90)

# ===================== Panel D: Kaplan-Meier =====================
def surv_at(times, surv, t):
    s = surv[0]
    for ti, si in zip(times, surv):
        if ti <= t:
            s = si
    return s


km_sets = [(os_low_t, os_low_s, os_low_cens, os_high_t, os_high_s, os_high_cens),
           (dfs_low_t, dfs_low_s, dfs_low_cens, dfs_high_t, dfs_high_s, dfs_high_cens)]
km_frames = [((577, 928), (1093, 1401), [44.9, 104.7]), ((1060, 1410), (1091, 1400), [44.8, 105.07])]
km_centers = [752, 1234]
km_ytitle_x = [525, 1008]
km_leg_x = [578, 1062]
km_p_x = [606, 1090]
BLUE, RED = "#1f1fd6", "#ff1a1a"
for k in range(2):
    xa, ya = f"x{10 + k}", f"y{10 + k}"
    lt, ls, lc, ht, hs, hc = km_sets[k]
    (x0, x1), (y0, y1), yr = km_frames[k]
    leg = f"legend{2 + k}"
    fig.add_trace(go.Scatter(x=lt, y=ls, mode="lines", line=dict(color=BLUE, width=2, shape="hv"),
                             name=km_names[0], legend=leg, legendgroup=f"l{k}", xaxis=xa, yaxis=ya))
    fig.add_trace(go.Scatter(x=ht, y=hs, mode="lines", line=dict(color=RED, width=2, shape="hv", dash="dash"),
                             name=km_names[1], legend=leg, legendgroup=f"h{k}", xaxis=xa, yaxis=ya))
    fig.add_trace(go.Scatter(x=lc, y=[surv_at(lt, ls, c) for c in lc], mode="markers",
                             marker=dict(symbol="line-ns", size=7, line=dict(color=BLUE, width=1.5)),
                             showlegend=False, xaxis=xa, yaxis=ya))
    fig.add_trace(go.Scatter(x=hc, y=[surv_at(ht, hs, c) for c in hc], mode="markers",
                             marker=dict(symbol="line-ns", size=7, line=dict(color=RED, width=1.5)),
                             showlegend=False, xaxis=xa, yaxis=ya))
    layout[f"xaxis{10 + k}"] = ax(xd(x0, x1), [0, 65], anchor=ya, tickvals=[0, 10, 20, 30, 40, 50, 60],
                                  tickfont=dict(size=15, weight="bold"), ticks="outside", ticklen=6,
                                  tickwidth=2, showline=True, linecolor="black", linewidth=2.5, mirror=True)
    layout[f"yaxis{10 + k}"] = ax(yd(y0, y1), yr, anchor=xa, tickvals=[50, 60, 70, 80, 90, 100],
                                  ticktext=["", "60", "", "80", "", "100"], tickfont=dict(size=16, weight="bold"),
                                  ticks="outside", ticklen=6, tickwidth=2, showline=True, linecolor="black",
                                  linewidth=2.5, mirror=True)
    layout[leg] = dict(x=px(km_leg_x[k]), y=py(1310), xanchor="left", yanchor="top",
                       font=dict(size=17, weight="bold", family=FONT), bgcolor="rgba(0,0,0,0)",
                       traceorder="grouped", tracegroupgap=6, itemwidth=40)
    ann(f"<i>p</i> = {km_pvalues[k]}", px(km_p_x[k]), py(1381), 16, bold=True, xanchor="left")
    ann(km_titles[k], px(km_centers[k]), py(1068), 20, bold=True)
    ann("months", px(km_centers[k]), py(1445), 23, bold=True)
    ann("Percentage survival", px(km_ytitle_x[k]), py(1247), 20, bold=True, angle=-90)

# ===================== panel letters =====================
for letter, (lx, ly) in {"A": (2, 2), "B": (2, 484), "C": (2, 1017), "D": (500, 1017)}.items():
    ann(letter, px(lx), py(ly), 26, bold=True, xanchor="left", yanchor="top")

layout["annotations"] = annotations
layout["shapes"] = shapes
fig.update_layout(**layout)
fig.write_html("out.html", config={"displayModeBar": False},
               post_script="document.body.style.margin='0';")
